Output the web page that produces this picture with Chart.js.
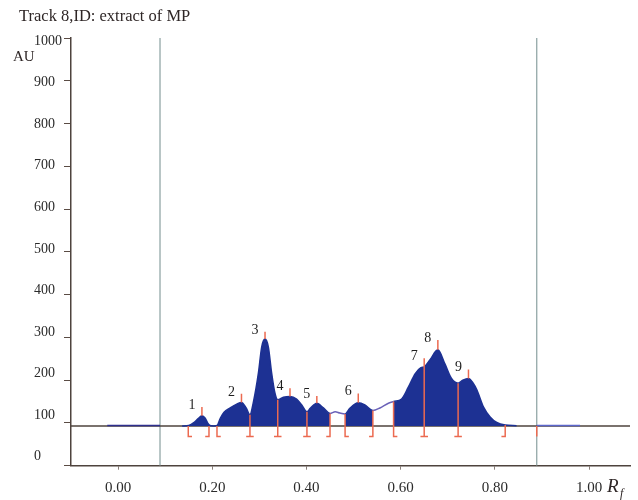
<!DOCTYPE html>
<html lang="en">
<head>
<meta charset="UTF-8">
<title>Track 8,ID: extract of MP</title>
<script src="https://cdn.jsdelivr.net/npm/chart.js"></script>
<style>
  body { margin: 0; background: #fff; }
  canvas { display: block; }
</style>
</head>
<body>
<canvas id="densito" width="638" height="500"></canvas>
<script>
// densitogram of track 8: Rf position vs absorbance (AU); null breaks the trace
var rfValues = [-0.023, 0.089, 0.11,
  0.136, 0.150, 0.160, 0.170, 0.178, 0.185, 0.190, 0.195, 0.203, 0.210,
  0.217, 0.225, 0.238, 0.252, 0.262, 0.272, 0.280,
  0.287, 0.298, 0.305, 0.312, 0.319, 0.326, 0.333, 0.339,
  0.351, 0.365, 0.379, 0.390, 0.401,
  0.408, 0.422, 0.436, 0.450,
  0.461, 0.471, 0.482,
  0.492, 0.510, 0.524, 0.541,
  0.556, 0.574, 0.585,
  0.602, 0.616, 0.631, 0.643, 0.650, 0.662, 0.679, 0.694, 0.708, 0.722,
  0.732, 0.744, 0.754, 0.762, 0.776, 0.790, 0.804, 0.822, 0.846, 0.87,
  0.889, 0.981];
var auValues = [94, 94, null,
  93, 94, 100, 110, 117, 111, 100, 94, 93, 94,
  111, 125, 135, 144, 148, 135, 119,
  147, 217, 278, 296, 278, 217, 170, 154,
  160, 162, 156, 142, 126,
  134, 146, 135, 122,
  126, 123, 121,
  134, 147, 142, 129,
  135, 146, 150,
  156, 183, 215, 229, 231, 247, 271, 238, 204, 193,
  200, 204, 193, 177, 137, 114, 101, 95, 93.5, null,
  94, 94];

// stretches of the trace that are not integrated (plain line, no fill)
var openRanges = [[-1, 0.1], [0.450, 0.482], [0.541, 0.585], [0.85, 2]];
var openColors = ['#2e2f8e', '#6b62b8', '#6b62b8', '#5b66cc'];

var baselineAU = 93;
var markBottomAU = 68;
var frontLines = [0.089, 0.889];

// integrated peaks: apex position, apex height, top of the apex marker
var peakNames = ['1', '2', '3', '4', '5', '6', '7', '8', '9'];
var peakRf = [0.178, 0.262, 0.312, 0.365, 0.422, 0.510, 0.650, 0.679, 0.744];
var peakAU = [117, 148, 296, 162, 146, 147, 231, 271, 204];
var peakMarkAU = [137, 168, 313, 181, 163, 169, 251, 294, 225];

// peak limits: position, where the marker starts, shape of its foot
var cutRf = [0.149, 0.193, 0.210, 0.280, 0.339, 0.401, 0.450, 0.482, 0.541, 0.585, 0.650, 0.722, 0.822, 0.889];
var cutAU = [93, 93, 93, 119, 154, 126, 122, 121, 129, 150, 231, 193, 95, 93];
var cutFoot = ['L', 'J', 'L', 'T', 'T', 'T', 'J', 'L', 'J', 'L', 'T', 'T', 'J', 'I'];

var xTicks = [0, 0.2, 0.4, 0.6, 0.8, 1.0];
var yTicks = [0, 100, 200, 300, 400, 500, 600, 700, 800, 900, 1000];

var X_MIN = -0.1, X_MAX = 1.087;
var FOOT = 0.008;
var SERIF = '"Liberation Serif", "DejaVu Serif", serif';

var trace = rfValues.map(function (x, i) { return {x: x, y: auValues[i]}; });

function openIndex(ctx) {
  var a = ctx.p0.parsed.x, b = ctx.p1.parsed.x;
  for (var i = 0; i < openRanges.length; i++) {
    if (a >= openRanges[i][0] && b <= openRanges[i][1]) return i;
  }
  return -1;
}

// red integration marks: apex ticks and limit markers with their feet
var redPts = [];
peakRf.forEach(function (x, i) {
  redPts.push({x: x, y: peakAU[i]}, {x: x, y: peakMarkAU[i]}, {x: x, y: null});
});
cutRf.forEach(function (x, i) {
  var f = cutFoot[i];
  redPts.push({x: x, y: cutAU[i]}, {x: x, y: markBottomAU});
  if (f === 'L') redPts.push({x: x + FOOT, y: markBottomAU});
  if (f === 'J') redPts.push({x: x - FOOT, y: markBottomAU});
  if (f === 'T') redPts.push({x: x - FOOT, y: markBottomAU}, {x: x + FOOT, y: markBottomAU});
  redPts.push({x: x, y: null});
});

var frontPts = [];
frontLines.forEach(function (x) {
  frontPts.push({x: x, y: 0}, {x: x, y: 1000}, {x: x, y: null});
});

var textPlugin = {
  id: 'texts',
  afterDatasetsDraw: function (chart) {
    var c = chart.ctx, xs = chart.scales.x, ys = chart.scales.y;
    c.save();
    c.fillStyle = '#2e2626';
    c.textBaseline = 'middle';
    c.textAlign = 'left';
    c.font = '16.5px ' + SERIF;
    c.fillText('Track 8,ID: extract of MP', 19, 17);
    c.font = '15px ' + SERIF;
    c.fillText('AU', 13, 57);
    // AU labels run on a slightly tighter pitch than the tick marks
    c.font = '14px ' + SERIF;
    c.fillStyle = '#2b2b2b';
    yTicks.forEach(function (v) {
      c.fillText(String(v), 34, ys.getPixelForValue(21 + 0.972 * v));
    });
    c.fillStyle = '#2e2626';
    c.font = 'italic 19px ' + SERIF;
    c.fillText('R', 607, 487);
    c.font = 'italic 12px ' + SERIF;
    c.fillText('f', 620, 494);
    // peak numbers sit up and left of each apex marker
    c.font = '14px ' + SERIF;
    c.textAlign = 'center';
    c.fillStyle = '#1e1e1e';
    peakNames.forEach(function (n, i) {
      c.fillText(n, xs.getPixelForValue(peakRf[i]) - 10, ys.getPixelForValue(peakMarkAU[i]) - 2);
    });
    c.restore();
  }
};

new Chart(document.getElementById('densito'), {
  type: 'line',
  data: {
    datasets: [{
      data: redPts,
      borderColor: '#ec6a50',
      borderWidth: 1.5,
      pointRadius: 0,
      spanGaps: false,
      order: 0
    }, {
      data: trace,
      borderColor: '#1d3193',
      backgroundColor: '#1d3193',
      borderWidth: 1.5,
      pointRadius: 0,
      cubicInterpolationMode: 'monotone',
      spanGaps: false,
      fill: {value: baselineAU},
      segment: {
        borderColor: function (ctx) {
          var k = openIndex(ctx);
          return k < 0 ? undefined : openColors[k];
        },
        backgroundColor: function (ctx) { return openIndex(ctx) < 0 ? undefined : 'rgba(0,0,0,0)'; }
      },
      order: 1
    }, {
      data: [{x: X_MIN, y: baselineAU}, {x: X_MAX, y: baselineAU}],
      borderColor: '#4e433d',
      borderWidth: 1.5,
      pointRadius: 0,
      order: 2
    }, {
      data: frontPts,
      borderColor: '#8aa0a0',
      borderWidth: 1.2,
      pointRadius: 0,
      spanGaps: false,
      order: 3
    }]
  },
  options: {
    responsive: false,
    animation: false,
    events: [],
    layout: {padding: {top: 38, right: 8, left: 34, bottom: 0}},
    plugins: {legend: {display: false}, tooltip: {enabled: false}, title: {display: false}},
    scales: {
      x: {
        type: 'linear',
        min: X_MIN,
        max: X_MAX,
        afterBuildTicks: function (axis) { axis.ticks = xTicks.map(function (v) { return {value: v}; }); },
        afterFit: function (axis) { axis.height = 34.3; },
        border: {color: '#4e433d', width: 1.5},
        grid: {drawOnChartArea: false, drawTicks: true, tickLength: 4, color: '#8a7f7a'},
        ticks: {
          color: '#2b2b2b',
          font: {family: SERIF, size: 15},
          padding: 9,
          maxRotation: 0,
          callback: function (v) { return v.toFixed(2); }
        }
      },
      y: {
        min: 0,
        max: 1000,
        afterBuildTicks: function (axis) { axis.ticks = yTicks.map(function (v) { return {value: v}; }); },
        afterFit: function (axis) { axis.width = 37; },
        border: {color: '#4e433d', width: 1.5},
        grid: {drawOnChartArea: false, drawTicks: true, tickLength: 7, color: '#5a4c44'},
        ticks: {
          color: 'rgba(0,0,0,0)',
          font: {family: SERIF, size: 14},
          crossAlign: 'far',
          callback: function (v) { return String(v); }
        }
      }
    }
  },
  plugins: [textPlugin]
});
</script>
</body>
</html>
